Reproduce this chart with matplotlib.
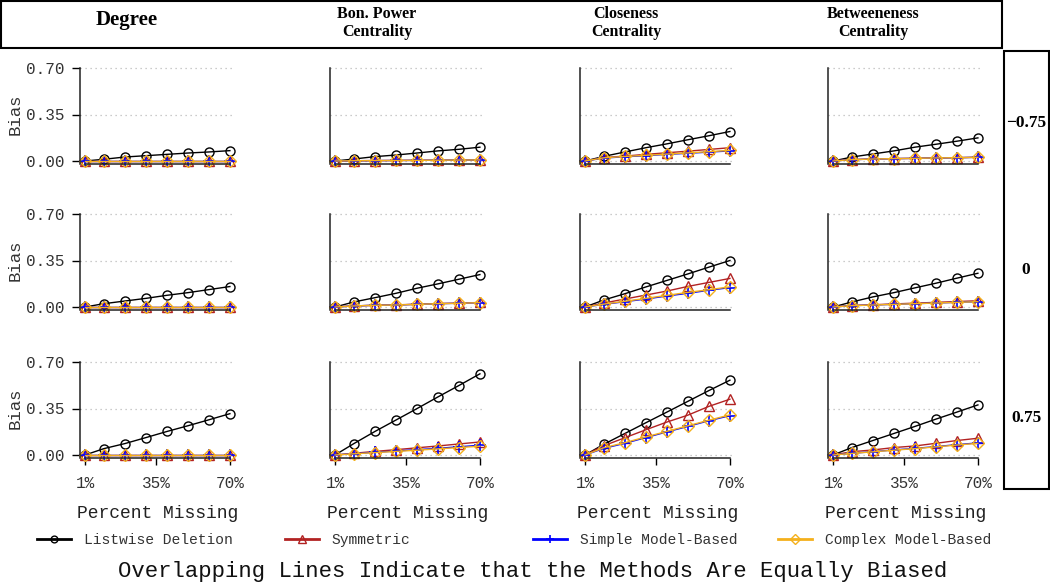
import matplotlib
matplotlib.use("Agg")
import matplotlib.pyplot as plt
from matplotlib.lines import Line2D
from matplotlib.patches import Rectangle

# --- data -------------------------------------------------------------
pct_missing = [1, 10, 20, 30, 40, 50, 60, 70]
x_ticks = [1, 35, 70]
x_tick_labels = ["1%", "35%", "70%"]
y_ticks = [0.0, 0.35, 0.70]
y_tick_labels = ["0.00", "0.35", "0.70"]

measures = ["Degree", "Bon. Power\nCentrality", "Closeness\nCentrality",
            "Betweeneness\nCentrality"]
correlations = ["\u22120.75", "0", "0.75"]
methods = ["Listwise Deletion", "Symmetric", "Simple Model-Based",
           "Complex Model-Based"]

zero8 = [0, 0, 0, 0, 0, 0, 0, 0]

# bias[row][col] -> values along pct_missing
listwise = [
    [[0, 0.013, 0.03, 0.04, 0.05, 0.06, 0.068, 0.078],
     [0, 0.015, 0.033, 0.045, 0.06, 0.076, 0.088, 0.104],
     [0, 0.035, 0.068, 0.10, 0.129, 0.16, 0.19, 0.222],
     [0, 0.03, 0.053, 0.076, 0.104, 0.126, 0.149, 0.174]],
    [[0, 0.025, 0.045, 0.065, 0.088, 0.108, 0.131, 0.154],
     [0, 0.038, 0.07, 0.103, 0.141, 0.174, 0.209, 0.244],
     [0, 0.053, 0.10, 0.151, 0.20, 0.249, 0.30, 0.35],
     [0, 0.038, 0.076, 0.108, 0.144, 0.179, 0.217, 0.254]],
    [[0, 0.048, 0.086, 0.131, 0.177, 0.22, 0.265, 0.311],
     [0, 0.086, 0.177, 0.263, 0.349, 0.437, 0.523, 0.611],
     [0, 0.081, 0.162, 0.243, 0.323, 0.404, 0.485, 0.563],
     [0, 0.056, 0.109, 0.162, 0.215, 0.27, 0.323, 0.377]],
]
symmetric = [
    [zero8,
     [0, 0.002, 0.003, 0.004, 0.005, 0.006, 0.007, 0.008],
     [0, 0.025, 0.037, 0.05, 0.062, 0.074, 0.087, 0.10],
     [0, 0.01, 0.015, 0.018, 0.02, 0.023, 0.025, 0.028]],
    [zero8,
     [0, 0.008, 0.013, 0.016, 0.021, 0.026, 0.029, 0.034],
     [0, 0.03, 0.06, 0.09, 0.12, 0.155, 0.185, 0.215],
     [0, 0.011, 0.017, 0.023, 0.029, 0.035, 0.041, 0.047]],
    [zero8,
     [0, 0.013, 0.027, 0.04, 0.054, 0.068, 0.083, 0.098],
     [0, 0.07, 0.13, 0.19, 0.248, 0.30, 0.366, 0.42],
     [0, 0.025, 0.038, 0.056, 0.068, 0.088, 0.109, 0.126]],
]
simple = [
    [zero8,
     [0, 0.002, 0.003, 0.004, 0.005, 0.006, 0.007, 0.008],
     [0, 0.022, 0.032, 0.04, 0.05, 0.058, 0.067, 0.076],
     [0, 0.01, 0.015, 0.018, 0.02, 0.023, 0.025, 0.028]],
    [zero8,
     [0, 0.008, 0.013, 0.015, 0.02, 0.025, 0.028, 0.033],
     [0, 0.02, 0.04, 0.06, 0.083, 0.103, 0.126, 0.146],
     [0, 0.01, 0.015, 0.02, 0.025, 0.03, 0.035, 0.04]],
    [zero8,
     [0, 0.01, 0.02, 0.03, 0.04, 0.05, 0.062, 0.073],
     [0, 0.05, 0.088, 0.131, 0.174, 0.215, 0.258, 0.296],
     [0, 0.013, 0.025, 0.038, 0.05, 0.063, 0.078, 0.091]],
]
complex_mb = [
    [zero8,
     [0, 0.002, 0.003, 0.004, 0.005, 0.006, 0.007, 0.008],
     [0, 0.024, 0.034, 0.043, 0.052, 0.061, 0.07, 0.08],
     [0, 0.01, 0.015, 0.018, 0.02, 0.023, 0.025, 0.028]],
    [zero8,
     [0, 0.008, 0.013, 0.015, 0.02, 0.025, 0.028, 0.033],
     [0, 0.022, 0.043, 0.065, 0.088, 0.11, 0.13, 0.152],
     [0, 0.01, 0.015, 0.02, 0.025, 0.03, 0.035, 0.04]],
    [zero8,
     [0, 0.009, 0.018, 0.027, 0.036, 0.046, 0.056, 0.066],
     [0, 0.055, 0.093, 0.136, 0.178, 0.22, 0.262, 0.302],
     [0, 0.012, 0.024, 0.036, 0.048, 0.061, 0.075, 0.088]],
]

# --- style ------------------------------------------------------------
W, H = 1050, 583
MONO = "Liberation Mono"
SERIF = "Liberation Serif"
styles = [
    dict(color="black", marker="o", ms=6.5, mfc="none", mew=1.0),
    dict(color="#B22222", marker="^", ms=7, mfc="none", mew=1.0),
    dict(color="#0000FF", marker="+", ms=8, mew=1.2),
    dict(color="#F4B01C", marker="D", ms=6.3, mfc="none", mew=1.0),
]
series = [listwise, symmetric, simple, complex_mb]

col_x = [80, 330, 580, 828]      # left spine, px
row_zero = [161, 307, 455]       # y pixel of bias = 0
px_per_pct = 2.1
px_per_unit = 93 / 0.7
xlim = (1 - 5 / px_per_pct, 1 - 5 / px_per_pct + 155 / px_per_pct)
ylim = (-0.025, 0.72)

fig = plt.figure(figsize=(W / 100, H / 100), dpi=100)


def fx(x):
    return x / W


def fy(y):
    return 1 - y / H


for r in range(3):
    for c in range(4):
        left = col_x[c]
        bottom = row_zero[r] - ylim[0] * px_per_unit
        top = row_zero[r] - ylim[1] * px_per_unit
        ax = fig.add_axes([fx(left), fy(bottom), 155 / W, (bottom - top) / H])
        for data, st in zip(series, styles):
            ax.plot(pct_missing, data[r][c], lw=1.0, clip_on=False, **st)

        ax.set_xlim(*xlim)
        ax.set_ylim(*ylim)
        for s in ["top", "right"]:
            ax.spines[s].set_visible(False)
        ax.spines["left"].set_bounds(-0.02, 0.70)
        ax.spines["bottom"].set_position(("data", -0.02))
        ax.spines["bottom"].set_bounds(1, 70)
        for s in ["left", "bottom"]:
            ax.spines[s].set_linewidth(1.1)
            ax.spines[s].set_color("#222222")

        ax.set_yticks(y_ticks)
        ax.yaxis.grid(True, ls=(0, (1, 3)), color="#BBBBBB", lw=0.9)
        ax.set_axisbelow(True)
        if c == 0:
            ax.set_yticklabels(y_tick_labels, fontfamily=MONO, fontsize=11.5,
                               color="#333333")
            ax.tick_params(axis="y", length=6, width=1.0, pad=5)
        else:
            ax.set_yticklabels([])
            ax.tick_params(axis="y", length=0)

        ax.set_xticks(x_ticks)
        if r == 2:
            ax.set_xticklabels(x_tick_labels, fontfamily=MONO, fontsize=11.5,
                               color="#333333")
            ax.tick_params(axis="x", length=5, width=1.0, pad=8)
            fig.text(fx(left + 5 + 72.5), fy(513), "Percent Missing",
                     fontfamily=MONO, fontsize=13, color="#222222",
                     ha="center", va="center")
        else:
            ax.set_xticklabels([])
            ax.tick_params(axis="x", length=0)

    fig.text(fx(15), fy(row_zero[r] - 47), "Bias", rotation=90,
             fontfamily=MONO, fontsize=12.5, color="#333333",
             ha="center", va="center")

# header box with column titles
fig.add_artist(Rectangle((fx(1), fy(48)), fx(1002) - fx(1), fy(1) - fy(48),
                         transform=fig.transFigure, fill=False, lw=1.5,
                         ec="black"))
title_x = [127, 377, 626, 873]
for i, (name, tx) in enumerate(zip(measures, title_x)):
    fs = 15 if i == 0 else 11.5
    ty = 20 if i == 0 else 23
    fig.text(fx(tx), fy(ty), name, fontfamily=SERIF, fontweight="bold",
             fontsize=fs, ha="center", va="center", linespacing=1.15)

# right strip with correlation levels
fig.add_artist(Rectangle((fx(1004), fy(489)), fx(1049) - fx(1004),
                         fy(51) - fy(489), transform=fig.transFigure,
                         fill=False, lw=1.5, ec="black"))
for lab, sy in zip(correlations, [123, 270, 418]):
    fig.text(fx(1026), fy(sy), lab, fontfamily=SERIF, fontweight="bold",
             fontsize=12.5, ha="center", va="center")

# legend, one entry per slot
leg_x = [37, 285, 533, 778]
for name, st, lx in zip(methods, styles, leg_x):
    hst = dict(st)
    hst["ms"] = st["ms"] * 0.75
    h = Line2D([], [], lw=2.0, **hst)
    fig.legend([h], [name], loc="center left",
               bbox_to_anchor=(fx(lx), fy(540)), frameon=False,
               handlelength=2.3, handletextpad=0.9, borderpad=0,
               borderaxespad=0,
               prop=dict(family=MONO, size=10.5), labelcolor="#333333")

fig.text(fx(533), fy(571),
         "Overlapping Lines Indicate that the Methods Are Equally Biased",
         fontfamily=MONO, fontsize=16, color="#111111",
         ha="center", va="center")

fig.savefig("out.png", dpi=100)
